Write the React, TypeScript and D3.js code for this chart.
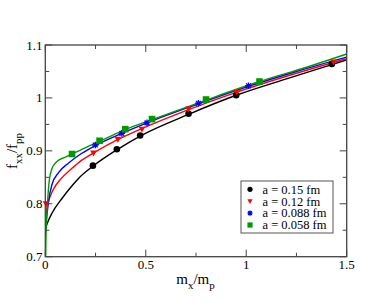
import React from "react";
import * as d3 from "d3";

// ---- data ----
const seriesNames = ["a = 0.15 fm", "a = 0.12 fm", "a = 0.088 fm", "a = 0.058 fm"];
const seriesColors = ["#000000", "#ff0000", "#0000ff", "#009a00"];
const seriesShapes = ["circle", "triangle", "star", "square"];

const pts015: [number, number][] = [
  [0.237, 0.872], [0.356, 0.903], [0.472, 0.929], [0.713, 0.970], [0.95, 1.005], [1.426, 1.064],
];
const pts012: [number, number][] = [
  [0.004, 0.800], [0.24, 0.896], [0.361, 0.922], [0.481, 0.941], [0.713, 0.979], [0.953, 1.011], [1.434, 1.068],
];
const pts0088: [number, number][] = [
  [0.249, 0.911], [0.381, 0.933], [0.506, 0.953], [0.762, 0.990], [1.011, 1.023],
];
const pts0058: [number, number][] = [
  [0.133, 0.894], [0.27, 0.919], [0.398, 0.941], [0.531, 0.960], [0.80, 0.997], [1.066, 1.031],
];

const fit015: [number, number][] = [
  [0, 0.752], [0.01, 0.763], [0.033, 0.782], [0.083, 0.810], [0.133, 0.834], [0.163, 0.847],
  [0.237, 0.871], [0.356, 0.902], [0.472, 0.928], [0.713, 0.969], [0.95, 1.005], [1.2, 1.036],
  [1.426, 1.063], [1.5, 1.072],
];
const fit012: [number, number][] = [
  [0, 0.75], [0.005, 0.785], [0.015, 0.803], [0.04, 0.827], [0.08, 0.848], [0.13, 0.866],
  [0.18, 0.882], [0.24, 0.896], [0.36, 0.921], [0.48, 0.942], [0.713, 0.978], [0.953, 1.011],
  [1.2, 1.041], [1.434, 1.067], [1.5, 1.074],
];
const fit0088: [number, number][] = [
  [0, 0.74], [0.003, 0.757], [0.017, 0.807], [0.033, 0.836], [0.066, 0.859], [0.116, 0.877],
  [0.18, 0.895], [0.249, 0.910], [0.381, 0.933], [0.506, 0.953], [0.762, 0.989], [1.011, 1.022],
  [1.25, 1.050], [1.5, 1.077],
];
const fit0058: [number, number][] = [
  [0.002, 0.70], [0.004, 0.75], [0.01, 0.795], [0.02, 0.845], [0.033, 0.866], [0.058, 0.880],
  [0.1, 0.888], [0.133, 0.894], [0.182, 0.903], [0.27, 0.918], [0.398, 0.940], [0.531, 0.959],
  [0.8, 0.996], [1.066, 1.031], [1.3, 1.058], [1.5, 1.083],
];

const seriesPoints = [pts015, pts012, pts0088, pts0058];
const seriesFits = [fit015, fit012, fit0088, fit0058];

const xMajor = [0, 0.5, 1, 1.5];
const xMajorLabels = ["0", "0.5", "1", "1.5"];
const xMinor = [0.25, 0.75, 1.25];
const yMajor = [0.7, 0.8, 0.9, 1.0, 1.1];
const yMajorLabels = ["0.7", "0.8", "0.9", "1", "1.1"];
const yMinor = [0.75, 0.85, 0.95, 1.05];

// ---- layout ----
const W = 390, H = 302;
const L = 45.3, R = 346.7, T = 45, B = 256.7;
const FONT = "Liberation Serif, DejaVu Serif, serif";

function Marker({ shape, x, y, color, s }: { shape: string; x: number; y: number; color: string; s: number }) {
  if (shape === "circle") return <circle cx={x} cy={y} r={s} fill={color} />;
  if (shape === "square")
    return <rect x={x - s} y={y - s} width={2 * s} height={2 * s} fill={color} />;
  if (shape === "triangle") {
    const d = `M${x - s},${y - s * 0.75}L${x + s},${y - s * 0.75}L${x},${y + s * 1.05}Z`;
    return <path d={d} fill={color} />;
  }
  const k = s * 0.72;
  const d = `M${x},${y - s}L${x},${y + s}M${x - s},${y}L${x + s},${y}M${x - k},${y - k}L${x + k},${y + k}M${x - k},${y + k}L${x + k},${y - k}`;
  return <path d={d} stroke={color} strokeWidth={1.3} fill="none" />;
}

export default function App() {
  const x = d3.scaleLinear().domain([0, 1.5]).range([L, R]);
  const y = d3.scaleLinear().domain([0.7, 1.1]).range([B, T]);
  const line = d3
    .line<[number, number]>()
    .x((d) => x(d[0]))
    .y((d) => y(d[1]))
    .curve(d3.curveMonotoneX);

  const legX = 241, legY = 181, legW = 92, legH = 52;
  const frameColor = "#444";

  return (
    <svg width={W} height={H} style={{ position: "absolute", left: 0, top: 0, background: "#fff", fontFamily: FONT }}>
      <defs>
        <clipPath id="plotclip">
          <rect x={L} y={T} width={R - L} height={B - T} />
        </clipPath>
      </defs>
      <rect x={0} y={0} width={W} height={H} fill="#fff" />

      <g clipPath="url(#plotclip)">
        {seriesFits.map((f, i) => (
          <path key={i} d={line(f) || ""} fill="none" stroke={seriesColors[i]} strokeWidth={1.4} />
        ))}
      </g>

      {seriesPoints.map((pts, i) => (
        <g key={i}>
          {pts.map((p, j) => (
            <Marker key={j} shape={seriesShapes[i]} x={x(p[0])} y={y(p[1])} color={seriesColors[i]} s={3.3} />
          ))}
        </g>
      ))}

      <rect x={L} y={T} width={R - L} height={B - T} fill="none" stroke={frameColor} strokeWidth={1.3} />

      <g stroke={frameColor} strokeWidth={1}>
        {xMajor.map((v, i) => (
          <g key={"xm" + i}>
            <line x1={x(v)} x2={x(v)} y1={B} y2={B - 7} />
            <line x1={x(v)} x2={x(v)} y1={T} y2={T + 7} />
          </g>
        ))}
        {xMinor.map((v, i) => (
          <g key={"xn" + i}>
            <line x1={x(v)} x2={x(v)} y1={B} y2={B - 4} />
            <line x1={x(v)} x2={x(v)} y1={T} y2={T + 4} />
          </g>
        ))}
        {yMajor.map((v, i) => (
          <g key={"ym" + i}>
            <line x1={L} x2={L + 7} y1={y(v)} y2={y(v)} />
            <line x1={R} x2={R - 7} y1={y(v)} y2={y(v)} />
          </g>
        ))}
        {yMinor.map((v, i) => (
          <g key={"yn" + i}>
            <line x1={L} x2={L + 4} y1={y(v)} y2={y(v)} />
            <line x1={R} x2={R - 4} y1={y(v)} y2={y(v)} />
          </g>
        ))}
      </g>

      <g fontSize={13} fill="#000">
        {xMajor.map((v, i) => (
          <text key={"xl" + i} x={x(v)} y={269} textAnchor="middle">
            {xMajorLabels[i]}
          </text>
        ))}
        {yMajor.map((v, i) => (
          <text key={"yl" + i} x={42.5} y={y(v)} dy="0.35em" textAnchor="end">
            {yMajorLabels[i]}
          </text>
        ))}
      </g>

      <text x={195.5} y={283.5} fontSize={15} textAnchor="middle" fill="#000">
        m<tspan fontSize={11} dy={5}>x</tspan>
        <tspan dy={-5}>/m</tspan>
        <tspan fontSize={11} dy={5}>p</tspan>
      </text>
      <text transform={`translate(16.5,151) rotate(-90)`} fontSize={15} textAnchor="middle" fill="#000">
        f<tspan fontSize={11} dy={5}>xx</tspan>
        <tspan dy={-5}>/f</tspan>
        <tspan fontSize={11} dy={5}>pp</tspan>
      </text>

      <rect x={legX} y={legY} width={legW} height={legH} fill="#fff" stroke="#555" strokeWidth={1} />
      {seriesNames.map((n, i) => {
        const cy = 189.3 + i * 11.9;
        return (
          <g key={"lg" + i}>
            <Marker shape={seriesShapes[i]} x={250} y={cy} color={seriesColors[i]} s={2.6} />
            <text x={262.5} y={cy} dy="0.35em" fontSize={12.5} fill="#000">
              {n}
            </text>
          </g>
        );
      })}
    </svg>
  );
}
